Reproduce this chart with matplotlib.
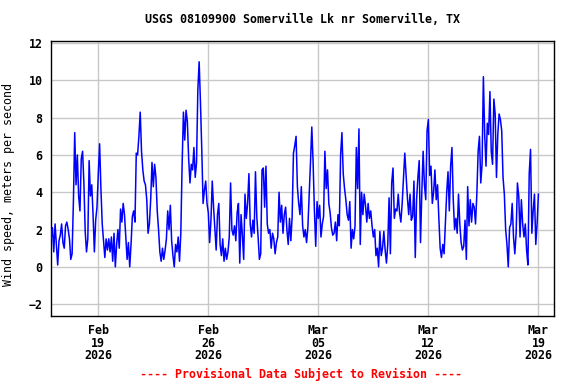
from __future__ import annotations

import matplotlib

matplotlib.use("Agg")
import matplotlib.dates as mdates
import matplotlib.pyplot as plt
import pandas as pd


TITLE = "USGS 08109900 Somerville Lk nr Somerville, TX"
Y_LABEL = "Wind speed, meters per second"
FOOTER = "---- Provisional Data Subject to Revision ----"

START = "2026-02-16 00:00"
STEP = "2h"
X_TICKS = ["2026-02-19", "2026-02-26", "2026-03-05", "2026-03-12", "2026-03-19"]
Y_TICKS = [-2, 0, 2, 4, 6, 8, 10, 12]

# wind speed (m/s), every 2 hours, one row per day
WIND_SPEED = [
    1.5, 2.1, 0.8, 2.3, 1.2, 0.1, 1.4, 1.7, 2.3, 1.3, 1.0, 2.2,  # Feb 16
    2.4, 2.0, 1.5, 0.4, 0.7, 3.5, 7.2, 4.4, 6.0, 3.8, 3.0, 5.8,  # Feb 17
    6.2, 4.5, 1.9, 0.8, 1.5, 5.7, 3.8, 4.4, 2.8, 0.8, 2.5, 3.2,  # Feb 18
    5.0, 6.6, 4.2, 2.3, 1.4, 0.5, 1.5, 0.9, 1.5, 0.8, 1.6, 0.3,  # Feb 19
    1.8, 0.0, 1.2, 2.0, 1.0, 3.1, 2.4, 3.4, 2.8, 1.6, 0.4, 1.3,  # Feb 20
    0.0, 1.2, 2.7, 3.0, 2.4, 6.1, 6.0, 7.0, 8.3, 6.2, 5.2, 4.6,  # Feb 21
    4.4, 3.6, 1.8, 2.3, 3.6, 5.6, 4.3, 5.5, 4.8, 3.0, 2.0, 0.8,  # Feb 22
    0.3, 1.0, 0.4, 0.9, 1.5, 3.0, 2.0, 3.3, 1.4, 0.6, 0.0, 1.2,  # Feb 23
    0.8, 1.6, 0.3, 1.8, 5.5, 8.3, 6.8, 8.4, 7.8, 5.8, 4.5, 5.5,  # Feb 24
    5.2, 6.4, 4.8, 5.6, 9.5, 11.0, 8.8, 6.3, 3.4, 4.1, 4.6, 3.4,  # Feb 25
    2.9, 1.3, 2.5, 4.6, 3.2, 2.0, 0.9, 2.8, 3.4, 1.2, 0.6, 1.5,  # Feb 26
    0.3, 1.0, 0.4, 0.8, 1.6, 4.5, 2.0, 1.7, 2.2, 1.4, 2.9, 3.4,  # Feb 27
    0.2, 2.8, 1.7, 0.4, 3.9, 2.6, 3.4, 5.0, 2.3, 1.6, 2.5, 1.8,  # Feb 28
    5.1, 2.7, 1.6, 0.4, 0.7, 5.2, 5.3, 3.2, 5.4, 2.3, 1.8, 2.0,  # Mar 01
    1.0, 1.8, 1.5, 0.7, 1.3, 1.6, 4.0, 2.4, 3.3, 1.8, 2.8, 3.2,  # Mar 02
    2.0, 1.2, 2.6, 1.4, 2.7, 6.1, 6.5, 7.0, 4.3, 3.4, 2.8, 4.3,  # Mar 03
    2.2, 1.6, 2.0, 1.3, 2.1, 3.8, 5.6, 7.5, 5.6, 3.0, 1.1, 3.5,  # Mar 04
    2.6, 3.3, 1.6, 2.3, 2.7, 6.2, 4.2, 5.2, 3.4, 2.9, 2.1, 1.7,  # Mar 05
    1.8, 2.4, 1.4, 2.8, 2.2, 6.0, 7.2, 5.0, 4.2, 3.6, 2.8, 2.5,  # Mar 06
    3.5, 1.0, 2.0, 1.5, 2.2, 6.4, 4.2, 7.4, 1.2, 4.0, 2.8, 3.9,  # Mar 07
    3.3, 2.4, 3.4, 2.6, 3.0, 2.2, 1.6, 2.0, 0.6, 1.0, 0.0, 1.9,  # Mar 08
    0.6, 1.0, 1.9, 0.9, 0.2, 1.2, 3.7, 0.7, 4.5, 5.3, 2.6, 3.1,  # Mar 09
    3.0, 3.9, 2.9, 2.4, 3.4, 4.8, 6.1, 4.9, 3.7, 2.8, 3.9, 2.5,  # Mar 10
    2.7, 4.6, 0.5, 3.6, 4.8, 5.7, 1.3, 4.0, 6.2, 4.4, 3.6, 7.3,  # Mar 11
    7.9, 4.9, 5.4, 3.4, 4.0, 5.2, 3.6, 4.4, 2.6, 1.0, 0.5, 1.2,  # Mar 12
    0.7, 2.3, 4.0, 5.1, 3.0, 5.4, 6.4, 3.6, 2.0, 2.6, 1.8, 3.9,  # Mar 13
    2.3, 1.3, 0.9, 1.1, 2.5, 0.4, 4.3, 2.2, 3.6, 2.4, 3.4, 3.2,  # Mar 14
    2.3, 3.9, 6.2, 7.0, 4.5, 5.5, 10.2, 7.1, 5.4, 7.7, 7.1, 9.4,  # Mar 15
    6.2, 5.5, 9.0, 8.2, 4.8, 7.1, 8.2, 7.9, 7.3, 4.8, 3.9, 2.0,  # Mar 16
    1.2, 0.0, 2.1, 2.3, 3.4, 1.6, 0.7, 1.8, 4.5, 3.8, 1.6, 3.6,  # Mar 17
    2.3, 1.6, 2.3, 0.9, 0.1, 5.0, 6.3, 1.8, 3.0, 3.9, 1.2, 2.3,  # Mar 18
    3.9,  # Mar 19
]

FONT = "DejaVu Sans Mono"
FONT_SIZE = 8.4


def main() -> None:
    plt.rcParams["font.family"] = [FONT, "DejaVu Sans"]
    plt.rcParams["font.weight"] = "bold"
    plt.rcParams["font.size"] = FONT_SIZE

    times = pd.date_range(START, periods=len(WIND_SPEED), freq=STEP)

    fig = plt.figure(figsize=(5.76, 3.84), dpi=100)
    ax = fig.add_axes([0.0885, 0.177, 0.8735, 0.716])

    ax.plot(times, WIND_SPEED, color="#0000FF", lw=1.1, zorder=3)

    ax.set_xlim(pd.Timestamp("2026-02-16") - pd.Timedelta(minutes=15), pd.Timestamp("2026-03-20"))
    ax.set_ylim(-2.64, 12.11)
    ax.set_xticks(pd.to_datetime(X_TICKS))
    ax.xaxis.set_major_formatter(mdates.DateFormatter("%b\n%d\n%Y"))
    ax.set_yticks(Y_TICKS)

    ax.grid(True, color="#c8c8c8", lw=1.0, zorder=0)
    ax.tick_params(length=0, labelsize=FONT_SIZE)
    ax.tick_params(axis="x", pad=6)
    ax.tick_params(axis="y", pad=6)
    for label in ax.get_xticklabels():
        label.set_linespacing(0.95)
    for spine in ax.spines.values():
        spine.set_linewidth(1.0)
        spine.set_color("black")

    ax.set_ylabel(Y_LABEL, fontsize=FONT_SIZE, labelpad=8)
    ax.yaxis.set_label_coords(-0.072, 0.48)
    fig.text(0.525, 0.95, TITLE, ha="center", va="center", fontsize=FONT_SIZE)
    fig.text(0.523, 0.026, FOOTER, ha="center", va="center", color="#FF0000", fontsize=FONT_SIZE)

    fig.savefig("out.png", dpi=100)
    plt.close(fig)


if __name__ == "__main__":
    main()
